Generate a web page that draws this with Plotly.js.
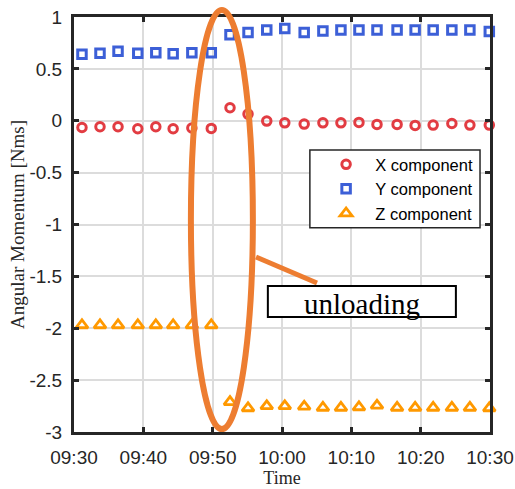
<!DOCTYPE html>
<html>
<head>
<meta charset="utf-8">
<script src="https://cdn.plot.ly/plotly-3.0.1.min.js"></script>
<style>html,body{margin:0;padding:0;background:#fff;}#chart{width:515px;height:489px;}</style>
</head>
<body>
<div id="chart"></div>
<script>
const day = '2024-01-01 ';
const times = ['09:31:09','09:33:45','09:36:21','09:39:12','09:41:48','09:44:18','09:47:00','09:49:48',
  '09:52:30','09:55:06','09:57:48','10:00:24','10:03:12','10:05:54','10:08:30','10:11:06','10:13:42',
  '10:16:36','10:19:12','10:21:48','10:24:30','10:27:06','10:29:54'];
const xComp = [-0.065,-0.058,-0.058,-0.077,-0.058,-0.077,-0.070,-0.074,
  0.125,0.064,-0.003,-0.020,-0.032,-0.020,-0.020,-0.016,-0.035,-0.035,-0.045,-0.042,-0.026,-0.042,-0.042];
const yComp = [0.64,0.65,0.67,0.65,0.655,0.645,0.655,0.655,
  0.83,0.85,0.875,0.89,0.85,0.865,0.875,0.875,0.875,0.875,0.875,0.875,0.875,0.875,0.86];
const zComp = [-1.97,-1.97,-1.97,-1.97,-1.97,-1.97,-1.97,-1.97,
  -2.71,-2.77,-2.75,-2.75,-2.755,-2.765,-2.765,-2.76,-2.745,-2.765,-2.765,-2.765,-2.765,-2.765,-2.77];
const seriesNames = ['X component','Y component','Z component'];
const yTickVals = [1,0.5,0,-0.5,-1,-1.5,-2,-2.5,-3];
const yTickText = ['1','0.5','0','-0.5','-1','-1.5','-2','-2.5','-3'];
const xRange = ['09:30','10:30'];
const noteText = 'unloading';

const t = times.map(s => day + s);
const sans = 'Liberation Sans, Arial, sans-serif';
const serif = 'Liberation Serif, Times New Roman, serif';
const nb = '\u00A0\u00A0';

const traces = [
  {x:t, y:xComp, name:nb+seriesNames[0], mode:'markers', type:'scatter', cliponaxis:false,
   marker:{symbol:'circle-open', size:8.5, color:'#e23c42', line:{width:3, color:'#e23c42'}}},
  {x:t, y:yComp, name:nb+seriesNames[1], mode:'markers', type:'scatter', cliponaxis:false,
   marker:{symbol:'square-open', size:8.5, color:'#3c5fd7', line:{width:3, color:'#3c5fd7'}}},
  {x:t, y:zComp, name:nb+seriesNames[2], mode:'markers', type:'scatter', cliponaxis:false,
   marker:{symbol:'triangle-up-open', size:10.5, color:'#ff9900', line:{width:2.8, color:'#ff9900'}}}
];

const axisCommon = {
  showline:true, linewidth:3, linecolor:'#262626', mirror:'ticks',
  ticks:'inside', ticklen:5, tickwidth:3, tickcolor:'#262626',
  showgrid:true, gridcolor:'#dcdcdc', gridwidth:2, zeroline:false,
  tickfont:{family:sans, size:19, color:'#262626'}
};

const layout = {
  width:515, height:489,
  margin:{l:74, r:25, t:17, b:57},
  paper_bgcolor:'#fff', plot_bgcolor:'#fff',
  showlegend:true,
  xaxis: Object.assign({}, axisCommon, {
    type:'date', range:[day+xRange[0], day+xRange[1]],
    dtick:600000, tickformat:'%H:%M', tick0:day+xRange[0],
    ticklabelstandoff:6,
    title:{text:'Time', font:{family:serif, size:18, color:'#262626'}, standoff:4}
  }),
  yaxis: Object.assign({}, axisCommon, {
    range:[-3,1], tickvals:yTickVals, ticktext:yTickText,
    ticklabelstandoff:5,
    title:{text:'Angular Momentum [Nms]', font:{family:serif, size:19, color:'#262626'}, standoff:0}
  }),
  legend:{
    x:0.606, y:0.6865, xanchor:'left', yanchor:'top',
    bgcolor:'rgba(0,0,0,0)', borderwidth:0,
    font:{family:sans, size:16.5, color:'#000'}, tracegroupgap:0
  },
  shapes:[
    {type:'rect', xref:'paper', yref:'paper', x0:0.567, x1:0.976, y0:0.492, y1:0.6795,
     fillcolor:'#fff', line:{color:'#262626', width:1.5}, layer:'above'},
    {type:'circle', xref:'paper', yref:'paper', x0:0.281, x1:0.430, y0:0.007, y1:1.017,
     line:{color:'#ed7d31', width:6}, layer:'above'},
    {type:'line', xref:'paper', yref:'paper', x0:0.4375, y0:0.4217, x1:0.5841, y1:0.359,
     line:{color:'#ed7d31', width:5}, layer:'above'},
    {type:'rect', xref:'paper', yref:'paper', x0:0.466, x1:0.918, y0:0.277, y1:0.352,
     fillcolor:'#fff', line:{color:'#000', width:2}, layer:'above'}
  ],
  annotations:[
    {xref:'paper', yref:'paper', x:0.692, y:0.309, xanchor:'center', yanchor:'middle',
     text:noteText, showarrow:false, font:{family:serif, size:29, color:'#000'}}
  ]
};

Plotly.newPlot('chart', traces, layout, {displayModeBar:false, staticPlot:true});
</script>
</body>
</html>
